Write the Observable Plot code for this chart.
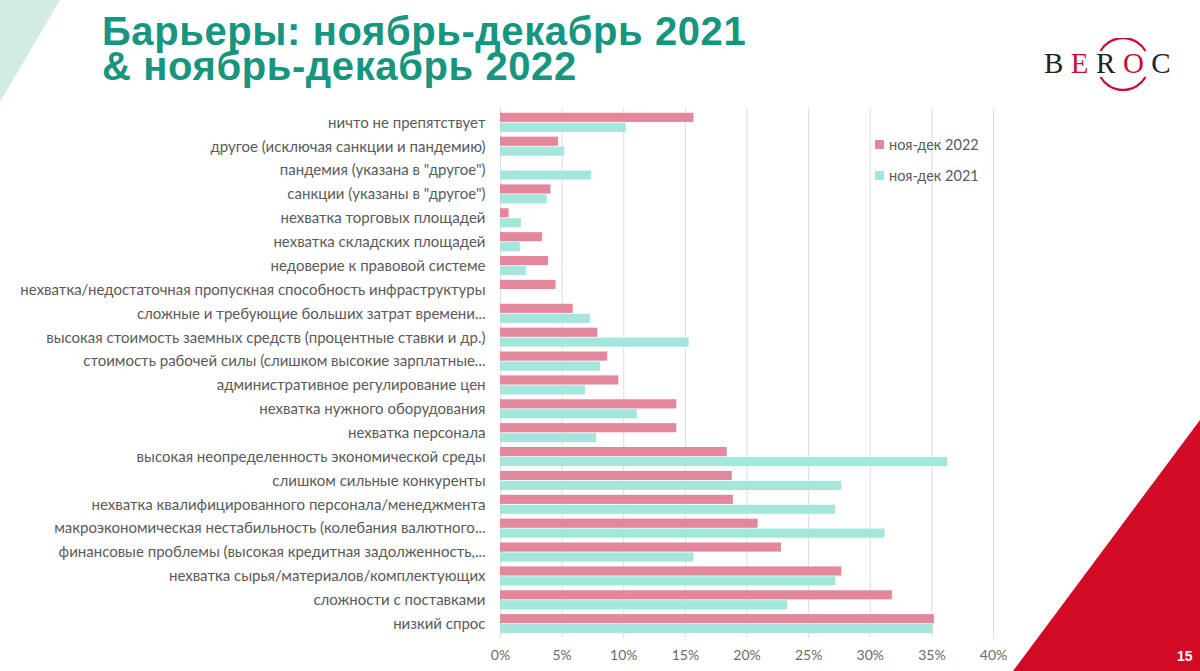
<!DOCTYPE html>
<html>
<head>
<meta charset="utf-8">
<script src="https://cdn.jsdelivr.net/npm/d3@7"></script>
<script src="https://cdn.jsdelivr.net/npm/@observablehq/plot@0.6"></script>
<style>
  html, body { margin: 0; padding: 0; background: #fff; }
  #page { position: relative; width: 1200px; height: 671px; overflow: hidden; background: #fff; }
  #chart { position: absolute; left: 0; top: 0; }
  .deco { position: absolute; left: 0; top: 0; }
  .tline { position: absolute; left: 102px; font-family: "Liberation Sans", Arial, sans-serif; font-weight: bold; font-size: 40px; line-height: 34px; height: 34px; color: #17957f; letter-spacing: 0.6px; white-space: nowrap; }
  #legend { position: absolute; left: 875px; top: 129px; font-family: Lato, "Open Sans", sans-serif; font-size: 14.5px; color: #595959; }
  #legend .item { display: flex; align-items: center; height: 31px; }
  #legend .sw { width: 9px; height: 9px; margin-right: 5px; }
  #logo { position: absolute; left: 1040px; top: 38px; width: 140px; height: 54px; }
  #logo .txt { position: absolute; left: 4px; top: 9px; font-family: "Liberation Serif", "DejaVu Serif", serif; font-size: 29px; letter-spacing: 7.5px; color: #222; }
  #pagenum { position: absolute; left: 1177px; top: 648px; font-family: "Liberation Sans", Arial, sans-serif; font-weight: bold; font-size: 14px; color: #fff; }
</style>
</head>
<body>
<div id="page">
  <svg class="deco" width="1200" height="671">
    <polygon points="0,0 60,0 0,102" fill="#d3ece3"></polygon>
    <polygon points="1013,671 1200,420 1200,671" fill="#d10a26"></polygon>
  </svg>
  <div id="chart"></div>
  <div class="tline" style="top:14px">Барьеры: ноябрь-декабрь 2021</div>
  <div class="tline" style="top:49px">&amp; ноябрь-декабрь 2022</div>
  <div id="logo">
    <svg width="140" height="54" style="position:absolute;left:0;top:0">
      <path d="M 60.5 13 A 26 26 0 0 1 105.5 13" fill="none" stroke="#c8102e" stroke-width="2.2"></path>
      <path d="M 60.5 39 A 26 26 0 0 0 105.5 39" fill="none" stroke="#c8102e" stroke-width="2.2"></path>
    </svg>
    <div class="txt">B<span style="color:#c8102e">E</span>R<span style="color:#c8102e">O</span>C</div>
  </div>
  <div id="legend">
    <div class="item"><div class="sw" style="background:#e3879c"></div>ноя-дек 2022</div>
    <div class="item"><div class="sw" style="background:#a5e6dc"></div>ноя-дек 2021</div>
  </div>
  <div id="pagenum">15</div>
</div>
<script>
const categories = [
  "ничто не препятствует",
  "другое (исключая санкции и пандемию)",
  "пандемия (указана в \"другое\")",
  "санкции (указаны в \"другое\")",
  "нехватка торговых площадей",
  "нехватка складских площадей",
  "недоверие к правовой системе",
  "нехватка/недостаточная пропускная способность инфраструктуры",
  "сложные и требующие больших затрат времени...",
  "высокая стоимость заемных средств (процентные ставки и др.)",
  "стоимость рабочей силы (слишком высокие зарплатные...",
  "административное регулирование цен",
  "нехватка нужного оборудования",
  "нехватка персонала",
  "высокая неопределенность экономической среды",
  "слишком сильные конкуренты",
  "нехватка квалифицированного персонала/менеджмента",
  "макроэкономическая нестабильность (колебания валютного...",
  "финансовые проблемы (высокая кредитная задолженность,...",
  "нехватка сырья/материалов/комплектующих",
  "сложности с поставками",
  "низкий спрос"
];
const series2022 = [15.7, 4.7, 0, 4.1, 0.7, 3.4, 3.9, 4.5, 5.9, 7.9, 8.7, 9.6, 14.3, 14.3, 18.4, 18.8, 18.9, 20.9, 22.8, 27.7, 31.8, 35.2];
const series2021 = [10.2, 5.2, 7.4, 3.8, 1.7, 1.6, 2.1, 0, 7.3, 15.3, 8.1, 6.9, 11.1, 7.8, 36.3, 27.7, 27.2, 31.2, 15.7, 27.2, 23.3, 35.1];
const xTicks = [0, 5, 10, 15, 20, 25, 30, 35, 40];

const data = categories.map((c, i) => ({category: c, v2022: series2022[i], v2021: series2021[i]}));

const W = 1200, H = 671, mt = 108, mb = 33, ml = 500, mr = 207, pad = 0.2;
const step = (H - mt - mb) / (categories.length - pad + 2 * pad);
const bw = step * (1 - pad);
const half = bw / 2 + 0.4;

const chart = Plot.plot({
  width: W, height: H,
  marginLeft: ml, marginRight: mr, marginTop: mt, marginBottom: mb,
  style: {fontFamily: "Lato, 'Open Sans', sans-serif", background: "transparent"},
  x: {domain: [0, 40], label: null},
  y: {domain: categories, padding: pad, round: false, label: null},
  marks: [
    Plot.gridX(xTicks, {stroke: "#dcdcdc", strokeOpacity: 1, strokeWidth: 1}),
    Plot.barX(data, {y: "category", x: "v2022", fill: "#e3879c", insetBottom: half}),
    Plot.barX(data, {y: "category", x: "v2021", fill: "#a5e6dc", insetTop: half}),
    Plot.axisX(xTicks, {tickSize: 0, tickPadding: 12, tickFormat: d => d + "%", fontSize: 14, color: "#6a6a6a", label: null}),
    Plot.axisY({tickSize: 0, tickPadding: 15, fontSize: 15, color: "#5a5a5a", label: null})
  ]
});
document.getElementById("chart").appendChild(chart);
</script>
</body>
</html>
